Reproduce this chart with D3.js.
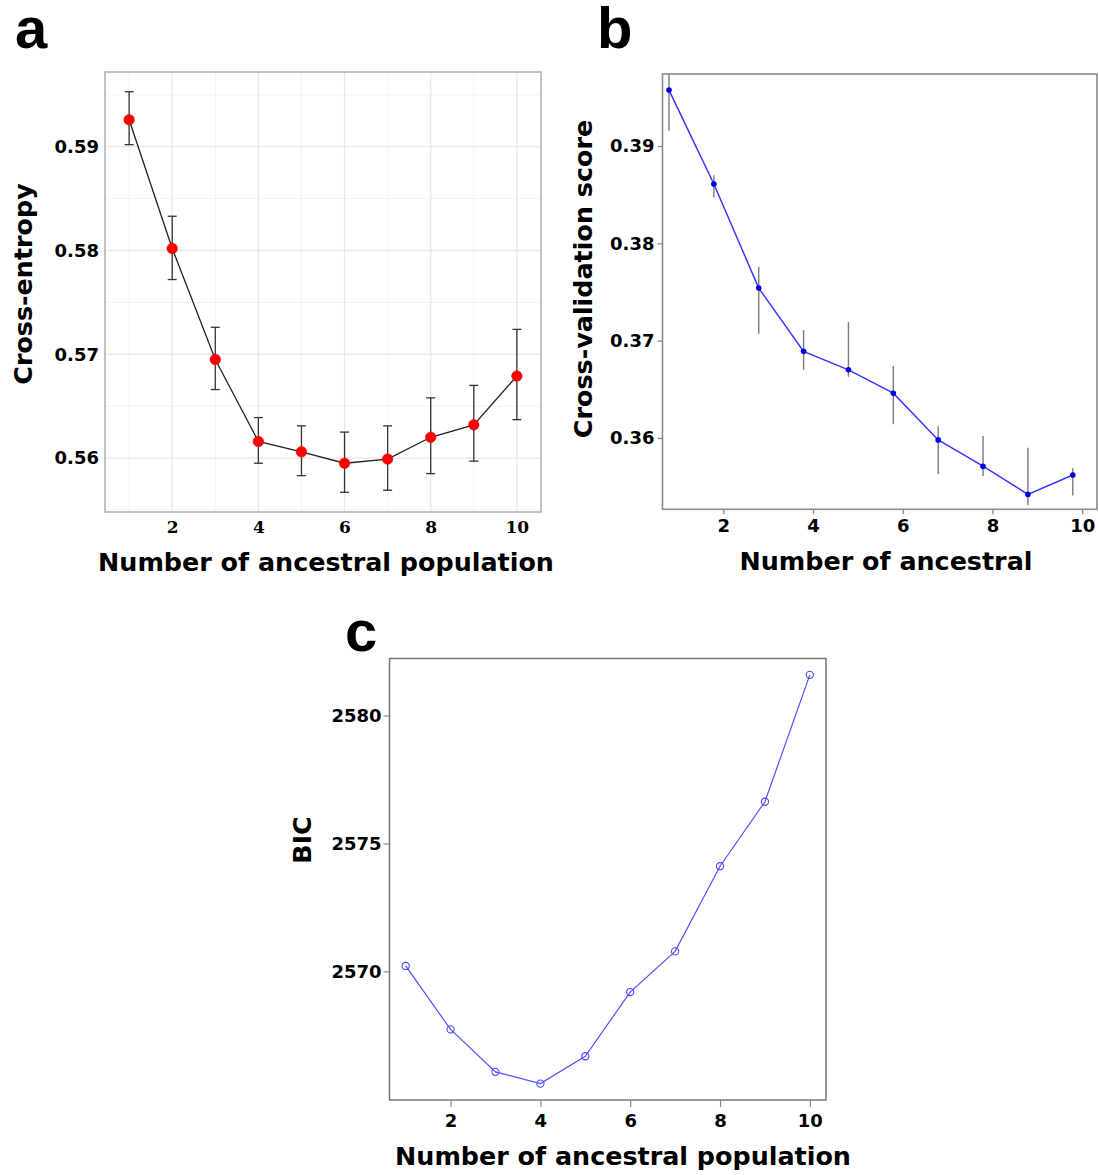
<!DOCTYPE html>
<html><head><meta charset="utf-8">
<script src="https://cdn.jsdelivr.net/npm/d3@7"></script>
<style>
html,body{margin:0;padding:0;background:#fff;}
svg text{font-family:"DejaVu Sans",sans-serif;font-weight:bold;fill:#000;}
</style></head><body>
<svg id="c" width="1099" height="1175"></svg>
<script>
// ---------------- data ----------------
const K = [1,2,3,4,5,6,7,8,9,10];
// panel a: cross-entropy
const ceMean = [0.5926,0.5802,0.5695,0.5616,0.5606,0.5595,0.5599,0.5620,0.5632,0.5679];
const ceLow  = [0.5902,0.5772,0.5666,0.5595,0.5583,0.5567,0.5569,0.5585,0.5597,0.5637];
const ceHigh = [0.5953,0.5833,0.5726,0.5639,0.5631,0.5625,0.5631,0.5658,0.5670,0.5724];
// panel b: cross-validation score
const cvMean = [0.39575,0.3861,0.3754,0.3689,0.3670,0.3646,0.3598,0.3571,0.3542,0.3562];
const cvLow  = [0.3916,0.3847,0.3707,0.3670,0.3663,0.3614,0.3563,0.3561,0.3531,0.3541];
const cvHigh = [0.3985,0.3870,0.3776,0.3711,0.3719,0.3674,0.3612,0.3602,0.3590,0.3569];
// panel c: BIC
const bic = [2570.21,2567.73,2566.07,2565.61,2566.68,2569.19,2570.78,2574.11,2576.63,2581.59];
// tick labels
const xTicks = [2,4,6,8,10];
const aYTicks = [0.56,0.57,0.58,0.59];
const bYTicks = [0.36,0.37,0.38,0.39];
const cYTicks = [2570,2575,2580];
const titles = {a:"Cross-entropy", b:"Cross-validation score", c:"BIC",
  xa:"Number of ancestral population", xb:"Number of ancestral", xc:"Number of ancestral population"};

const svg = d3.select("#c");
const fmt2 = d3.format(".2f");
const TITLE = "25.4px";

// ================= Panel a =================
(function(){
  const L=105,R=541,T=72,B=512;
  const x = d3.scaleLinear().domain([0.44,10.56]).range([L,R]);
  const y = d3.scaleLinear().domain([0.5548,0.5972]).range([B,T]);
  const g = svg.append("g");
  const data = K.map((k,i)=>({k, m:ceMean[i], lo:ceLow[i], hi:ceHigh[i]}));
  const yMinor = d3.range(0.555,0.5971,0.01);
  g.selectAll(".ym").data(yMinor).join("line")
    .attr("x1",L).attr("x2",R).attr("y1",d=>y(d)).attr("y2",d=>y(d))
    .attr("stroke","#f2f2f2").attr("stroke-width",1);
  g.selectAll(".xm").data([1,3,5,7,9]).join("line")
    .attr("y1",T).attr("y2",B).attr("x1",d=>x(d)).attr("x2",d=>x(d))
    .attr("stroke","#f2f2f2").attr("stroke-width",1);
  g.selectAll(".yM").data(aYTicks).join("line")
    .attr("x1",L).attr("x2",R).attr("y1",d=>y(d)).attr("y2",d=>y(d))
    .attr("stroke","#e8e8e8").attr("stroke-width",1.3);
  g.selectAll(".xM").data(xTicks).join("line")
    .attr("y1",T).attr("y2",B).attr("x1",d=>x(d)).attr("x2",d=>x(d))
    .attr("stroke","#e8e8e8").attr("stroke-width",1.3);
  const eb = g.append("g").attr("stroke","#333").attr("stroke-width",1.3);
  eb.selectAll(".v").data(data).join("line")
    .attr("x1",d=>x(d.k)).attr("x2",d=>x(d.k)).attr("y1",d=>y(d.lo)).attr("y2",d=>y(d.hi));
  eb.selectAll(".t").data(data).join("line")
    .attr("x1",d=>x(d.k)-4.5).attr("x2",d=>x(d.k)+4.5).attr("y1",d=>y(d.hi)).attr("y2",d=>y(d.hi));
  eb.selectAll(".b").data(data).join("line")
    .attr("x1",d=>x(d.k)-4.5).attr("x2",d=>x(d.k)+4.5).attr("y1",d=>y(d.lo)).attr("y2",d=>y(d.lo));
  g.append("path").datum(data)
    .attr("d",d3.line().x(d=>x(d.k)).y(d=>y(d.m)))
    .attr("fill","none").attr("stroke","#222").attr("stroke-width",1.3);
  g.selectAll(".p").data(data).join("circle")
    .attr("cx",d=>x(d.k)).attr("cy",d=>y(d.m)).attr("r",5.3)
    .attr("fill","#ff0000").attr("stroke","#e00000").attr("stroke-width",0.5);
  g.append("rect").attr("x",L).attr("y",T).attr("width",R-L).attr("height",B-T)
    .attr("fill","none").attr("stroke","#b3b3b3").attr("stroke-width",1.6);
  const ay = g.append("g").attr("transform",`translate(${L},0)`)
    .call(d3.axisLeft(y).tickValues(aYTicks).tickFormat(fmt2).tickSize(0).tickPadding(6));
  ay.select(".domain").remove();
  ay.selectAll("text").style("font-size","18px").style("font-family","'DejaVu Sans'").style("font-weight","bold").attr("fill","#000");
  const ax = g.append("g").attr("transform",`translate(0,${B})`)
    .call(d3.axisBottom(x).tickValues(xTicks).tickFormat(d3.format("d")).tickSize(0).tickPadding(9));
  ax.select(".domain").remove();
  ax.selectAll("text").style("font-size","17px").style("font-family","'DejaVu Serif'").style("font-weight","bold").attr("fill","#000");
  svg.append("text").attr("transform",`translate(32,284) rotate(-90)`).attr("text-anchor","middle")
    .style("font-size",TITLE).text(titles.a);
  svg.append("text").attr("x",(L+R)/2+3).attr("y",571).attr("text-anchor","middle")
    .style("font-size",TITLE).text(titles.xa);
  svg.append("text").attr("x",15).attr("y",48).style("font-size","58px")
    .style("font-family","'Liberation Sans',Arial,sans-serif").text("a");
})();

// ================= Panel b =================
(function(){
  const L=662.5,R=1097,T=74,B=509.3;
  const x = d3.scaleLinear().domain([0.645,10.33]).range([L,R]);
  const y = d3.scaleLinear().domain([0.35267,0.3974]).range([B,T]);
  const dodge = -0.21;
  const g = svg.append("g");
  const data = K.map((k,i)=>({k:k+dodge, m:cvMean[i], lo:cvLow[i], hi:cvHigh[i]}));
  svg.append("clipPath").attr("id","clipb").append("rect")
    .attr("x",L).attr("y",T).attr("width",R-L).attr("height",B-T);
  const inner = g.append("g").attr("clip-path","url(#clipb)");
  inner.selectAll(".e").data(data).join("line")
    .attr("x1",d=>x(d.k)).attr("x2",d=>x(d.k)).attr("y1",d=>y(d.lo)).attr("y2",d=>y(d.hi))
    .attr("stroke","#7a7a7a").attr("stroke-width",1.4);
  inner.append("path").datum(data)
    .attr("d",d3.line().x(d=>x(d.k)).y(d=>y(d.m)))
    .attr("fill","none").attr("stroke","#3636ff").attr("stroke-width",1.5);
  inner.selectAll(".p").data(data).join("circle")
    .attr("cx",d=>x(d.k)).attr("cy",d=>y(d.m)).attr("r",2.8).attr("fill","#0000e0");
  g.append("rect").attr("x",L).attr("y",T).attr("width",R-L).attr("height",B-T)
    .attr("fill","none").attr("stroke","#8a8a8a").attr("stroke-width",1.6);
  const ay = g.append("g").attr("transform",`translate(${L},0)`)
    .call(d3.axisLeft(y).tickValues(bYTicks).tickFormat(fmt2).tickSize(5).tickPadding(3));
  ay.select(".domain").remove();
  ay.selectAll("line").attr("stroke","#888").attr("stroke-width",1.3);
  ay.selectAll("text").style("font-size","18px").style("font-family","'DejaVu Sans'").style("font-weight","bold").attr("fill","#000");
  const ax = g.append("g").attr("transform",`translate(0,${B})`)
    .call(d3.axisBottom(x).tickValues(xTicks).tickFormat(d3.format("d")).tickSize(5).tickPadding(5));
  ax.select(".domain").remove();
  ax.selectAll("line").attr("stroke","#888").attr("stroke-width",1.3);
  ax.selectAll("text").style("font-size","18px").style("font-family","'DejaVu Sans'").style("font-weight","bold").attr("fill","#000");
  svg.append("text").attr("transform",`translate(592,279) rotate(-90)`).attr("text-anchor","middle")
    .style("font-size",TITLE).text(titles.b);
  svg.append("text").attr("x",886).attr("y",570).attr("text-anchor","middle")
    .style("font-size",TITLE).text(titles.xb);
  svg.append("text").attr("x",597).attr("y",48).style("font-size","58px")
    .style("font-family","'Liberation Sans',Arial,sans-serif").text("b");
})();

// ================= Panel c =================
(function(){
  const L=389.5,R=826,T=658.5,B=1100;
  const x = d3.scaleLinear().domain([0.64,10.36]).range([L,R]);
  const y = d3.scaleLinear().domain([2564.97,2582.23]).range([B,T]);
  const g = svg.append("g");
  const data = K.map((k,i)=>({k, v:bic[i]}));
  g.append("path").datum(data)
    .attr("d",d3.line().x(d=>x(d.k)).y(d=>y(d.v)))
    .attr("fill","none").attr("stroke","#5050ff").attr("stroke-width",1.2);
  g.selectAll(".p").data(data).join("circle")
    .attr("cx",d=>x(d.k)).attr("cy",d=>y(d.v)).attr("r",3.6)
    .attr("fill","#fff").attr("fill-opacity",0).attr("stroke","#4646ff").attr("stroke-width",1.1);
  g.append("rect").attr("x",L).attr("y",T).attr("width",R-L).attr("height",B-T)
    .attr("fill","none").attr("stroke","#777").attr("stroke-width",1.5);
  const ay = g.append("g").attr("transform",`translate(${L},0)`)
    .call(d3.axisLeft(y).tickValues(cYTicks).tickFormat(d3.format("d")).tickSize(6).tickPadding(2));
  ay.select(".domain").remove();
  ay.selectAll("line").attr("stroke","#888").attr("stroke-width",1.2);
  ay.selectAll("text").style("font-size","18px").style("font-family","'DejaVu Sans'").style("font-weight","bold").attr("fill","#000");
  const ax = g.append("g").attr("transform",`translate(0,${B})`)
    .call(d3.axisBottom(x).tickValues(xTicks).tickFormat(d3.format("d")).tickSize(7).tickPadding(7));
  ax.select(".domain").remove();
  ax.selectAll("line").attr("stroke","#888").attr("stroke-width",1.2);
  ax.selectAll("text").style("font-size","18px").style("font-family","'DejaVu Sans'").style("font-weight","bold").attr("fill","#000");
  svg.append("text").attr("transform",`translate(311,840) rotate(-90)`).attr("text-anchor","middle")
    .style("font-size",TITLE).text(titles.c);
  svg.append("text").attr("x",623).attr("y",1165).attr("text-anchor","middle")
    .style("font-size",TITLE).text(titles.xc);
  svg.append("text").attr("x",345).attr("y",651).style("font-size","58px")
    .style("font-family","'Liberation Sans',Arial,sans-serif").text("c");
})();
</script>
</body></html>
